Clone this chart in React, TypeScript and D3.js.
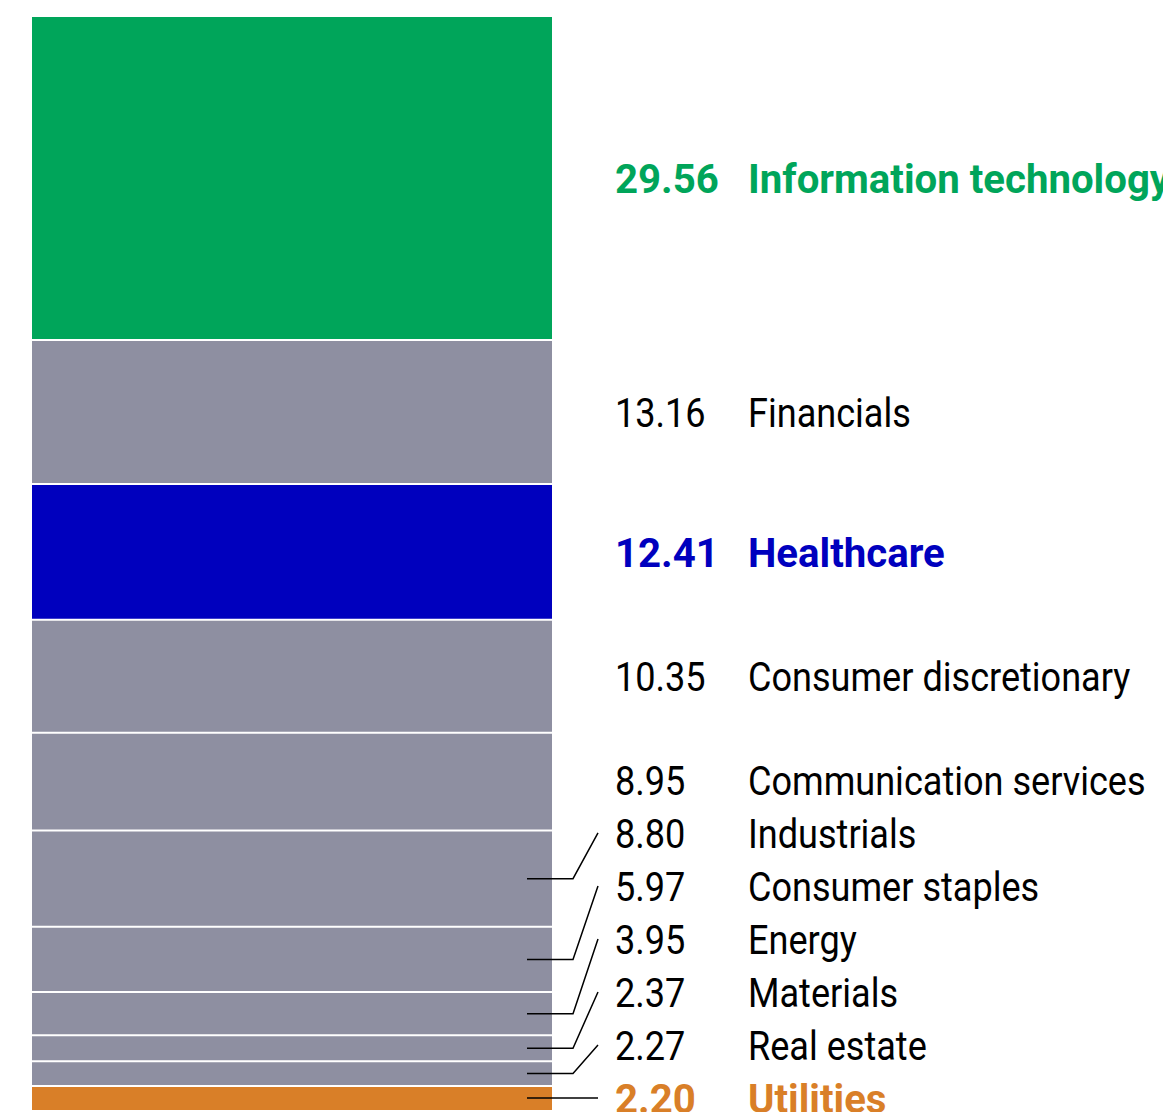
import React from "react";
import * as d3 from "d3";

const sectors = [
  "Information technology",
  "Financials",
  "Healthcare",
  "Consumer discretionary",
  "Communication services",
  "Industrials",
  "Consumer staples",
  "Energy",
  "Materials",
  "Real estate",
  "Utilities",
];
const weights = [29.56, 13.16, 12.41, 10.35, 8.95, 8.8, 5.97, 3.95, 2.37, 2.27, 2.2];
const highlight: Record<string, string> = {
  "Information technology": "#00A55A",
  Healthcare: "#0000BE",
  Utilities: "#D97F28",
};
const GRAY = "#8E8FA1";

const W = 1163;
const H = 1112;

export default function App() {
  const total = d3.sum(weights);
  const y = d3.scaleLinear().domain([0, total]).range([17, 1110]);
  const x0 = 32;
  const x1 = 552;
  const valueX = 615;
  const nameX = 748;
  const fontSize = 41;
  const minGap = 53;

  let cum = 0;
  const segs = sectors.map((name, i) => {
    const v = weights[i];
    const top = y(cum);
    const bottom = y(cum + v);
    cum += v;
    return { name, v, top, bottom, mid: (top + bottom) / 2, labelY: 0 };
  });
  // label placement: push labels upward from the bottom to avoid overlap
  for (let i = segs.length - 1; i >= 0; i--) {
    const below = i < segs.length - 1 ? segs[i + 1].labelY : Infinity;
    segs[i].labelY = Math.min(segs[i].mid, below - minGap);
  }

  return (
    <svg
      width={W}
      height={H}
      style={{ position: "absolute", left: 0, top: 0, background: "#fff" }}
      fontFamily="Roboto, 'Noto Sans', sans-serif"
    >
      {segs.map((s) => (
        <rect
          key={s.name}
          x={x0}
          y={s.top}
          width={x1 - x0}
          height={s.bottom - s.top}
          fill={highlight[s.name] || GRAY}
        />
      ))}
      {segs.slice(1).map((s) => (
        <line key={"sep" + s.name} x1={x0} x2={x1} y1={s.top} y2={s.top} stroke="#fff" strokeWidth={2} />
      ))}
      {segs.map((s) => {
        const displaced = Math.abs(s.labelY - s.mid) > 10;
        const small = s.bottom - s.top < 30;
        if (!displaced && !small) return null;
        const d = displaced
          ? `M527,${s.mid}H573L598,${s.labelY}`
          : `M527,${s.mid}H598`;
        return <path key={"l" + s.name} d={d} fill="none" stroke="#000" strokeWidth={1.5} />;
      })}
      {segs.map((s) => {
        const col = highlight[s.name];
        const bold = !!col;
        const sx = bold ? 0.98 : 0.88;
        return (
          <g key={"t" + s.name} fill={col || "#000"} fontWeight={bold ? 700 : 400} fontSize={fontSize}>
            <g transform={`translate(${valueX},${s.labelY}) scale(${sx},1)`}>
              <text dy="0.36em">{s.v.toFixed(2)}</text>
            </g>
            <g transform={`translate(${nameX},${s.labelY}) scale(${sx},1)`}>
              <text dy="0.36em">{s.name}</text>
            </g>
          </g>
        );
      })}
    </svg>
  );
}
